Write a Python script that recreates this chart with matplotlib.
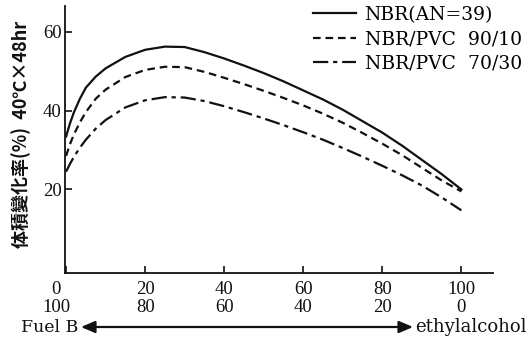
import matplotlib
matplotlib.use("Agg")
import matplotlib.pyplot as plt
from matplotlib.transforms import ScaledTranslation

plt.rcParams["lines.scale_dashes"] = False

# ethyl alcohol content in the Fuel B / ethanol blend [%]
blend_x = [0, 1, 2, 3.5, 5, 7.5, 10, 15, 20, 25, 30, 35, 40, 45, 50,
           55, 60, 65, 70, 75, 80, 85, 90, 95, 100]

# volume change [%] after 40C x 48 hr
nbr = [33.4, 36.8, 39.6, 43.0, 45.8, 48.6, 50.7, 53.6, 55.4, 56.2, 56.1,
       54.8, 53.2, 51.4, 49.5, 47.4, 45.1, 42.8, 40.2, 37.3, 34.4, 31.1,
       27.5, 23.9, 20.0]
nbr_pvc_90_10 = [28.5, 31.5, 34.0, 37.0, 39.6, 43.0, 45.3, 48.5, 50.3, 51.1,
                 51.0, 49.8, 48.3, 46.7, 45.0, 43.2, 41.3, 39.2, 36.9, 34.3,
                 31.6, 28.7, 25.5, 22.3, 19.5]
nbr_pvc_70_30 = [24.5, 26.5, 28.3, 30.6, 32.6, 35.4, 37.6, 40.8, 42.6, 43.4,
                 43.3, 42.4, 41.1, 39.6, 38.0, 36.3, 34.5, 32.6, 30.5, 28.3,
                 26.0, 23.6, 21.0, 18.0, 14.7]

series_labels = ["NBR(AN=39)", "NBR/PVC  90/10", "NBR/PVC  70/30"]

x_ticks = [0, 20, 40, 60, 80, 100]
x_tick_labels = ["0\n100", "20\n80", "40\n60", "60\n40", "80\n20", "100\n0"]
y_ticks = [20, 40, 60]

W, H = 529, 341
fig = plt.figure(figsize=(W / 100, H / 100), dpi=100)
ax = fig.add_axes([64.5 / W, 1 - 272.7 / H, (493 - 64.5) / W, (272.7 - 6) / H])

ink = "#111111"
ax.plot(blend_x, nbr, color=ink, lw=1.6, label=series_labels[0])
ax.plot(blend_x, nbr_pvc_90_10, color=ink, lw=1.6, dashes=(5.5, 3.5),
        label=series_labels[1])
ax.plot(blend_x, nbr_pvc_70_30, color=ink, lw=1.6, dashes=(11, 3.5, 3, 3.5),
        label=series_labels[2])

ax.set_xlim(-0.4, 108)
ax.set_ylim(-1.1, 66.5)
ax.set_xticks(x_ticks)
ax.set_xticklabels(x_tick_labels, family="Liberation Serif", fontsize=13.5,
                   linespacing=1.1)
ax.set_yticks(y_ticks)
ax.set_yticklabels([str(v) for v in y_ticks], family="Liberation Serif",
                   fontsize=13.5)
ax.tick_params(direction="in", length=5, width=1.2, colors=ink)
ax.tick_params(axis="x", pad=6)
ax.tick_params(axis="y", pad=2)

# nudge the 0/100 pair left of the axis corner
first = ax.get_xticklabels()[0]
first.set_transform(first.get_transform()
                    + ScaledTranslation(-10 / 100, 0, fig.dpi_scale_trans))

for side in ("top", "right"):
    ax.spines[side].set_visible(False)
for side in ("left", "bottom"):
    ax.spines[side].set_linewidth(1.3)
    ax.spines[side].set_color(ink)

ax.legend(loc="upper left", bbox_to_anchor=(313 / W, 1 - 6 / H),
          bbox_transform=fig.transFigure, frameon=False, borderpad=0,
          borderaxespad=0, handlelength=2.3, handletextpad=0.45,
          labelspacing=0.34, prop={"family": "DejaVu Serif", "size": 13.5})

fig.text(21 / W, 1 - 134 / H, "体積變化率(%)  40℃×48hr", rotation=90,
         ha="center", va="center", fontsize=13, weight="bold", color=ink,
         family=["Noto Sans CJK JP", "DejaVu Sans"])

# blend direction arrow under the axis
arrow_y = 1 - 327 / H
fig.text(21 / W, arrow_y, "Fuel B", ha="left", va="center",
         family="DejaVu Serif", fontsize=12.5, color=ink)
fig.text(415 / W, arrow_y, "ethylalcohol", ha="left", va="center",
         family="DejaVu Serif", fontsize=13, color=ink)
ax.annotate("", xy=(413 / W, arrow_y), xytext=(81 / W, arrow_y),
            xycoords="figure fraction", textcoords="figure fraction",
            annotation_clip=False,
            arrowprops=dict(arrowstyle="<|-|>,head_length=0.7,head_width=0.3",
                            color=ink, lw=1.6, mutation_scale=12,
                            shrinkA=0, shrinkB=0))

fig.savefig("out.png", dpi=100, facecolor="white")
